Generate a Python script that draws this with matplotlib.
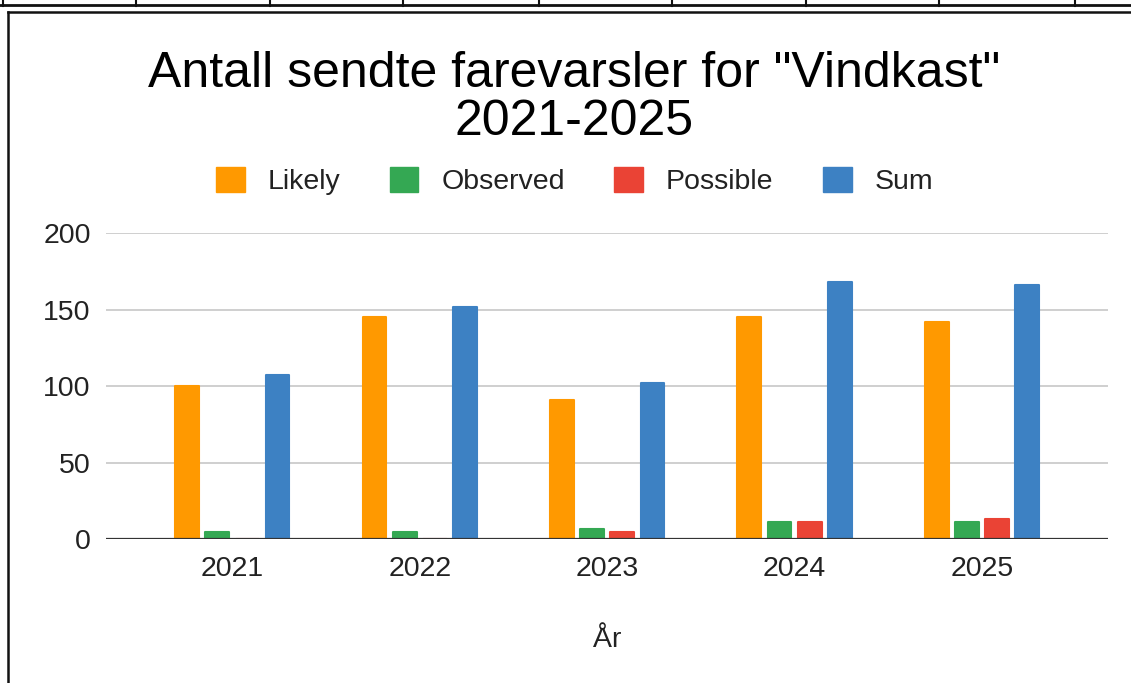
import matplotlib
matplotlib.use("Agg")
import matplotlib.pyplot as plt
from matplotlib.lines import Line2D
from matplotlib.patches import Patch
import numpy as np

plt.rcParams['font.family'] = ['Liberation Sans', 'DejaVu Sans']

years = ['2021', '2022', '2023', '2024', '2025']
likely = [100, 145, 91, 145, 142]
observed = [5, 5, 7, 11, 11]
possible = [0, 0, 5, 11, 13]
total = [107, 152, 102, 168, 166]

series = ['Likely', 'Observed', 'Possible', 'Sum']
colors = ['#FF9900', '#34A853', '#EA4335', '#3D81C3']

W, H = 1131, 683
fig = plt.figure(figsize=(W / 100, H / 100), dpi=100)
ax = fig.add_axes([106 / W, 1 - 539.3 / H, (1108 - 106) / W, (539.3 - 233) / H])

x = np.arange(len(years))
slot = 0.161
bw = 0.127
for k, (vals, c) in enumerate(zip([likely, observed, possible, total], colors)):
    ax.bar(x + (k - 1.5) * slot, vals, width=bw, color=c, edgecolor=c,
           linewidth=1.5, joinstyle='round', zorder=2)

ax.set_xlim(-0.674, 4.672)
ax.set_ylim(0, 200)
ax.set_yticks([0, 50, 100, 150, 200])
ax.set_xticks(x)
ax.set_xticklabels(years)
fs = 20.5
ax.tick_params(axis='both', length=0, labelsize=fs, colors='#222222')
ax.tick_params(axis='y', pad=11)
ax.tick_params(axis='x', pad=12)
ax.yaxis.grid(True, color='#cccccc', linewidth=1.3, zorder=0)
ax.set_axisbelow(True)
for s in ax.spines.values():
    s.set_visible(False)
ax.axhline(0, color='#333333', linewidth=1.6, zorder=3)

ax.set_xlabel('År', fontsize=fs, color='#222222', va='center')
ax.xaxis.set_label_coords(0.5, (539.3 - 640) / (539.3 - 233))

# title
fig.text(574 / W, 1 - 74 / H, 'Antall sendte farevarsler for "Vindkast"',
         ha='center', va='center', fontsize=36, color='#000000')
fig.text(574 / W, 1 - 122 / H, '2021-2025',
         ha='center', va='center', fontsize=36, color='#000000')

# legend
handles = [Patch(facecolor=c, edgecolor=c, linewidth=1, joinstyle='round')
           for c in colors]
fig.legend(handles, series, loc='center', bbox_to_anchor=(574.5 / W, 1 - 181 / H),
           ncol=4, frameon=False, fontsize=fs, handlelength=1.0, handleheight=1.0,
           handletextpad=0.8, columnspacing=1.75, labelcolor='#222222')

# surrounding page frame (table row above and box around chart)
fig.add_artist(Line2D([0, 1], [1 - 5 / H, 1 - 5 / H], color='#111111', linewidth=2))
for px in [3, 136, 270, 403, 539, 672, 806, 939, 1075]:
    fig.add_artist(Line2D([px / W, px / W], [1, 1 - 6 / H], color='#111111', linewidth=1.5))
fig.add_artist(Line2D([8 / W, 1], [1 - 12 / H, 1 - 12 / H], color='#111111', linewidth=1.8))
fig.add_artist(Line2D([8 / W, 8 / W], [1 - 12 / H, 0], color='#111111', linewidth=1.8))

fig.savefig('out.png', dpi=100, facecolor='white')
